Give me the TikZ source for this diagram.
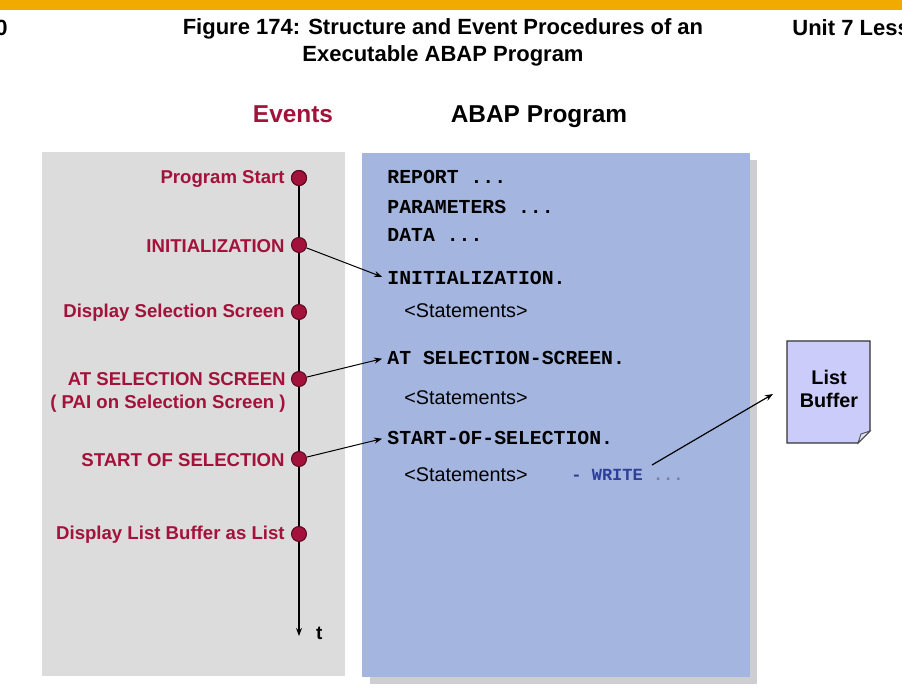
\documentclass[tikz,border=0pt]{standalone}
\usepackage{fontspec}
\setmainfont{Liberation Sans}
\setmonofont{Liberation Mono}
\usetikzlibrary{arrows.meta}
\definecolor{evred}{HTML}{A3123A}
\definecolor{topbar}{HTML}{F0AA00}
\definecolor{panelgrey}{HTML}{DCDCDD}
\definecolor{progblue}{HTML}{A4B6DF}
\definecolor{shadowgrey}{HTML}{CDCDD2}
\definecolor{bufferfill}{HTML}{CCCCFA}
\definecolor{writeblue}{HTML}{2F3F98}

\begin{document}
\begin{tikzpicture}[x=0.5pt, y=-0.5pt,
  evdot/.style={circle, fill=evred, draw=evred!55!black, line width=0.5pt, inner sep=0pt, minimum size=7.5pt},
  evlabel/.style={anchor=east, text=evred, font=\fontsize{9.3}{11.5}\selectfont\bfseries, align=right, inner sep=1pt},
  codeline/.style={anchor=west, font=\fontsize{9.9}{12}\selectfont\ttfamily\bfseries, inner sep=1pt, text height=1.5ex, text depth=.25ex},
  stmt/.style={anchor=west, font=\fontsize{9.9}{12}\selectfont, inner sep=1pt},
  heading/.style={font=\fontsize{12.2}{14}\selectfont\bfseries, text height=1.6ex, text depth=.3ex},
  link/.style={-{Stealth[length=4pt, width=3pt]}, line width=0.5pt, shorten >=1.5pt}]

  \clip (0,0) rectangle (902,700);
  \fill[white] (0,0) rectangle (902,700);
  \fill[topbar] (0,0) rectangle (902,10);

  \node[font=\fontsize{11}{13.5}\selectfont\bfseries, align=center] (title) at (443,42) {Figure 174: Structure and Event Procedures of an\\Executable ABAP Program};
  \node[font=\fontsize{11}{13.5}\selectfont\bfseries, anchor=east, inner sep=0pt] (pagenum) at (8,28) {0};
  \node[font=\fontsize{11}{13.5}\selectfont\bfseries, anchor=west, inner sep=0pt] (unit) at (792,28) {Unit 7 Less};

  \fill[panelgrey] (42,152) rectangle (345,676);
  \fill[shadowgrey] (370,160) rectangle (757,684);
  \fill[progblue] (362,153) rectangle (750,677);

  \node[heading, text=evred] (events) at (293,116) {Events};
  \node[heading] (abap) at (539,116) {ABAP Program};

  \coordinate (tend) at (299,636);
  \node[evdot] (start) at (299,178) {};
  \draw[-{Stealth[length=4pt, width=3pt]}, line width=0.7pt] (start.center) -- (tend);
  \node[anchor=west, font=\fontsize{9.5}{11}\selectfont\bfseries] (tlabel) at (309,633) {t};
  \node[evdot] (start) at (299,178) {};

  \node[evdot] (init) at (299,245) {};
  \node[evdot] (dispsel) at (299,312) {};
  \node[evdot] (atsel) at (299,379) {};
  \node[evdot] (startsel) at (299,459) {};
  \node[evdot] (displist) at (299,534) {};

  \node[evlabel] at (287,179) {Program Start};
  \node[evlabel] at (287,246) {INITIALIZATION};
  \node[evlabel] at (287,313) {Display Selection Screen};
  \node[evlabel, anchor=north east] at (288,370) {AT SELECTION SCREEN\\( PAI on Selection Screen )};
  \node[evlabel] at (287,460) {START OF SELECTION};
  \node[evlabel] at (287,535) {Display List Buffer as List};

  \node[codeline] (report) at (385,177) {REPORT ...};
  \node[codeline] (params) at (385,207) {PARAMETERS ...};
  \node[codeline] (data) at (385,235) {DATA ...};
  \node[codeline] (cinit) at (385,278) {INITIALIZATION.};
  \node[stmt] (stmta) at (402,311) {<Statements>};
  \node[codeline] (catsel) at (385,358) {AT SELECTION-SCREEN.};
  \node[stmt] (stmtb) at (402,398) {<Statements>};
  \node[codeline] (cstart) at (385,438) {START-OF-SELECTION.};
  \node[stmt] (stmtc) at (402,475) {<Statements>};
  \node[anchor=west, inner sep=1pt, font=\fontsize{8.5}{10}\selectfont\ttfamily\bfseries] (write) at (569,475) {\textcolor{writeblue}{- WRITE} \textcolor{writeblue!45!progblue!60!gray}{...}};

  \coordinate (wstart) at (652,465);
  \node[minimum width=83\pgflinewidth, inner sep=0pt] (listbuf) at (829,389) {};
  \draw[fill=bufferfill, draw=black!80, line width=0.6pt] (787,341) -- (870,341) -- (870,431) -- (858,443) -- (787,443) -- cycle;
  \draw[fill=bufferfill!60!white, draw=black!70, line width=0.4pt] (870,431) -- (858,443) -- (861,434) -- cycle;
  \node[font=\fontsize{9.9}{11.5}\selectfont\bfseries, align=center] at (listbuf) {List\\Buffer};

  \draw[link] (init) -- (cinit.west);
  \draw[link] (atsel) -- (catsel.west);
  \draw[link] (startsel) -- (cstart.west);
  \draw[link, line width=0.6pt, shorten >=0pt] (wstart) -- (773,394);
\end{tikzpicture}
\end{document}
